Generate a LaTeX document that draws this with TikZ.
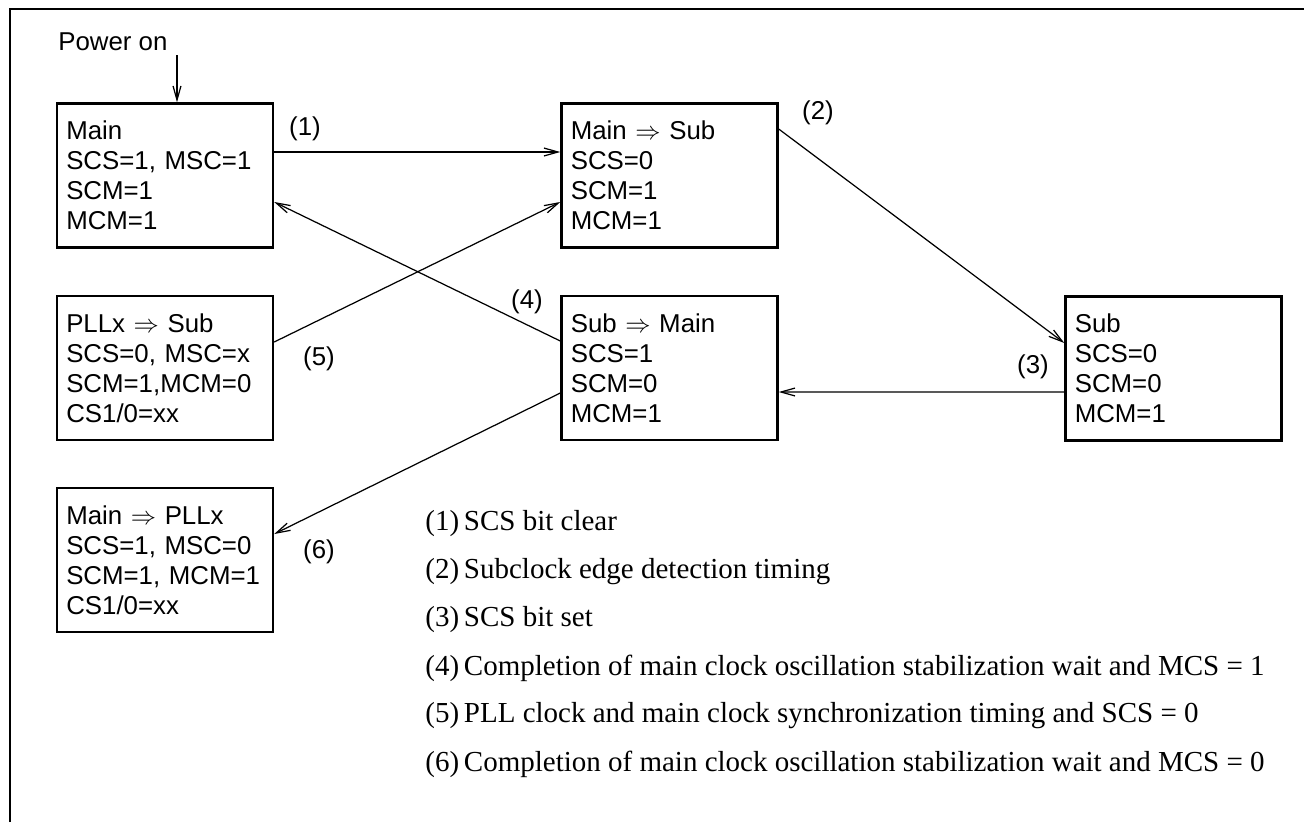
\documentclass[tikz,border=0pt]{standalone}
\usepackage{fontspec}
\setmainfont{Liberation Sans}
\newfontfamily\notefont{Liberation Serif}
\usetikzlibrary{arrows.meta,calc}

\begin{document}
\begin{tikzpicture}[x=0.02cm, y=-0.02cm,
    modebox/.style={draw, line width=1.4pt, rectangle, minimum width=4.32cm, minimum height=2.88cm,
        text width=3.95cm, inner xsep=0.185cm, inner ysep=0pt, align=left,
        font=\fontsize{14.7}{17}\selectfont},
    trans/.style={-{Straight Barb[length=8pt,width=4.5pt]}, line width=0.7pt},
    num/.style={font=\fontsize{14.7}{17}\selectfont},
    note/.style={anchor=west, inner sep=0pt, font=\notefont\fontsize{16.5}{20}\selectfont}]
    \useasboundingbox (0,0) rectangle (1304,822);
    \draw[line width=1.4pt] (10,822) -- (10,9) -- (1304,9);

    % Draw nodes
    \node[modebox] (main) at (165,175.5) {Main\\SCS=1, MSC=1\\SCM=1\\MCM=1};
    \node[modebox] (mainsub) at (669.5,175.5) {Main $\Rightarrow$ Sub\\SCS=0\\SCM=1\\MCM=1};
    \node[modebox] (pllsub) at (165,368) {PLLx $\Rightarrow$ Sub\\SCS=0, MSC=x\\SCM=1,MCM=0\\CS1/0=xx};
    \node[modebox] (submain) at (669.5,368) {Sub $\Rightarrow$ Main\\SCS=1\\SCM=0\\MCM=1};
    \node[modebox] (sub) at (1173.5,368.5) {Sub\\SCS=0\\SCM=0\\MCM=1};
    \node[modebox] (mainpll) at (165,560) {Main $\Rightarrow$ PLLx\\SCS=1, MSC=0\\SCM=1, MCM=1\\CS1/0=xx};

    \node[num, anchor=west, inner sep=0pt] (pwr) at (58,42) {Power on};
    \coordinate (pwrin) at (177,55);

    % Draw connections
    \draw[trans] (pwrin) -- (pwrin |- main.north);
    \draw[trans] ($(main.east)+(0,-23.5)$) -- ($(mainsub.west)+(0,-23.5)$);
    \draw[trans] ($(mainsub.east)+(0,-46.5)$) -- ($(sub.west)+(0,-25.5)$);
    \draw[trans] ($(sub.west)+(0,23.5)$) -- ($(submain.east)+(0,24)$);
    \draw[trans] ($(submain.west)+(0,-27)$) -- ($(main.east)+(0,26.5)$);
    \draw[trans] ($(pllsub.east)+(0,-26)$) -- ($(mainsub.west)+(0,26.5)$);
    \draw[trans] ($(submain.west)+(0,25)$) -- ($(mainpll.east)+(0,-26)$);

    % Labels
    \node[num] (n1) at (305,129) {(1)};
    \node[num] (n2) at (818,113) {(2)};
    \node[num] (n3) at (1033,367) {(3)};
    \node[num] (n4) at (527,302) {(4)};
    \node[num] (n5) at (319,359) {(5)};
    \node[num] (n6) at (319,552) {(6)};

    % Legend
    \node[note] (c1) at (425,524) {(1)\,SCS bit clear};
    \node[note] (c2) at (425,572) {(2)\,Subclock edge detection timing};
    \node[note] (c3) at (425,620) {(3)\,SCS bit set};
    \node[note] (c4) at (425,668) {(4)\,Completion of main clock oscillation stabilization wait and MCS = 1};
    \node[note] (c5) at (425,716) {(5)\,PLL clock and main clock synchronization timing and SCS = 0};
    \node[note] (c6) at (425,764) {(6)\,Completion of main clock oscillation stabilization wait and MCS = 0};
\end{tikzpicture}
\end{document}
